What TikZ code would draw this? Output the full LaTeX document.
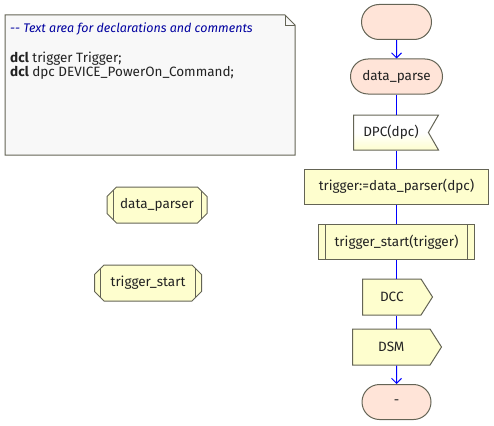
\documentclass[tikz,border=0pt]{standalone}
\usepackage{fontspec}
\setmainfont{Fira Sans}
\usetikzlibrary{shapes.misc, shapes.symbols, arrows.meta, positioning}
\definecolor{termfill}{RGB}{255,228,216}
\definecolor{boxfill}{RGB}{254,254,206}
\definecolor{bordr}{RGB}{100,100,85}
\definecolor{flowline}{RGB}{0,0,255}
\definecolor{commtext}{RGB}{0,0,160}
\definecolor{notefill}{RGB}{248,248,248}
\definecolor{labeltext}{RGB}{34,34,34}
\tikzset{
 sdl/.style={draw=bordr, line width=1pt, text=labeltext, font=\fontsize{13.5}{16}\selectfont, inner sep=0pt},
 term/.style={sdl, rounded rectangle, fill=termfill, minimum height=35pt},
 task/.style={sdl, rectangle, fill=boxfill, minimum height=35pt},
 proccall/.style={task, path picture={
   \draw[bordr, line width=1pt] ([xshift=7pt]path picture bounding box.north west) -- ([xshift=7pt]path picture bounding box.south west);
   \draw[bordr, line width=1pt] ([xshift=-7pt]path picture bounding box.north east) -- ([xshift=-7pt]path picture bounding box.south east);}},
 procdecl/.style={sdl, chamfered rectangle, chamfered rectangle xsep=6pt, fill=boxfill, minimum height=36pt, path picture={
   \draw[bordr, line width=1pt] ([xshift=6pt]path picture bounding box.north west) -- ([xshift=6pt]path picture bounding box.south west);
   \draw[bordr, line width=1pt] ([xshift=-6pt]path picture bounding box.north east) -- ([xshift=-6pt]path picture bounding box.south east);}},
 sigout/.style={sdl, signal, signal to=east, signal pointer angle=115, fill=boxfill, minimum height=36pt, anchor=west},
 sigin/.style={sdl, signal, signal to=nowhere, signal from=east, signal pointer angle=120, top color=white, bottom color=boxfill, middle color=white, minimum height=35pt, anchor=west},
 notetext/.style={anchor=base west, inner sep=0pt, text=labeltext, font=\fontsize{13.5}{16}\selectfont},
 flow/.style={color=flowline, line width=1pt},
 flowarrow/.style={flow, -{Straight Barb[length=5pt, width=10pt]}}
}

\begin{document}
\begin{tikzpicture}[x=1pt, y=-1pt]
 \useasboundingbox (0,0) rectangle (494,425);
 % text area
 \draw[bordr, line width=1pt, fill=notefill] (5,15) -- (285,15) -- (295,25) -- (295,155) -- (5,155) -- cycle;
 \draw[bordr, line width=0.8pt] (285,15) -- (285,25) -- (295,25);
 \node[notetext, font=\fontsize{12.5}{14}\itshape, text=commtext] (comment) at (10,33) {-{}- Text area for declarations and comments};
 \node[notetext] (dcltrig) at (10,63) {\textbf{dcl} trigger Trigger;};
 \node[notetext] (dcldpc) at (10,77) {\textbf{dcl} dpc DEVICE\_PowerOn\_Command;};

 % procedures
 \node[procdecl, minimum width=100pt] (dparser) at (157,205) {data\_parser};
 \node[procdecl, minimum width=107pt] (tstart) at (148,283) {trigger\_start};

 % flow
 \node[term, minimum width=70pt] (start) at (396.5,22) {};
 \node[term, minimum width=92pt] (parse) at (396.5,76.5) {data\_parse};
 \node[sigin, minimum width=85pt] (dpcin) at (353,132.5) {DPC(dpc)};
 \node[task, minimum width=184pt] (assign) at (396.5,186.5) {trigger:=data\_parser(dpc)};
 \node[proccall, minimum width=156pt] (call) at (396.5,242) {trigger\_start(trigger)};
 \node[sigout, minimum width=70pt] (dcc) at (362,297) {DCC};
 \node[sigout, minimum width=89pt] (dsm) at (352,347) {DSM};
 \node[term, minimum width=69pt] (stop) at (396.5,402) {-};

 \draw[flowarrow] (start) -- (parse);
 \draw[flow] (parse) -- (dpcin.north -| parse);
 \draw[flow] (dpcin.south -| parse) -- (assign);
 \draw[flow] (assign) -- (call);
 \draw[flow] (call.south) -- (call.south |- dcc.north);
 \draw[flow] (call.south |- dcc.south) -- (call.south |- dsm.north);
 \draw[flowarrow] (call.south |- dsm.south) -- (stop);
\end{tikzpicture}
\end{document}
